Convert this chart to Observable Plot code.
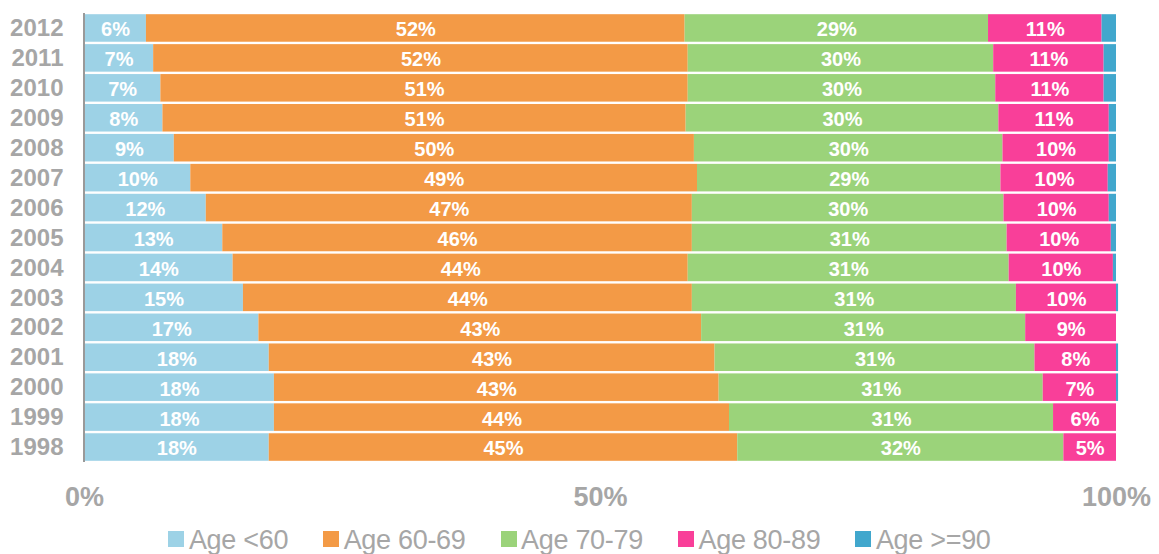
<!DOCTYPE html>
<html>
<head>
<meta charset="utf-8">
<script src="https://cdn.jsdelivr.net/npm/d3@7"></script>
<script src="https://cdn.jsdelivr.net/npm/@observablehq/plot@0.6"></script>
<style>
  html, body { margin: 0; padding: 0; background: #fff; }
  body { width: 1159px; height: 554px; overflow: hidden; font-family: "Liberation Sans", Arial, sans-serif; }
  #legend { display: flex; justify-content: center; align-items: center; height: 30px; margin-top: 10px; padding-left: 0px; }
  .item { display: flex; align-items: center; margin: 0 17.5px; }
  .sw { width: 16px; height: 16px; margin-right: 4.5px; margin-top: -2px; }
  .lab { font-size: 27px; color: #a6a6a6; letter-spacing: -0.3px; white-space: nowrap; }
</style>
</head>
<body>
<div id="chart"></div>
<div id="legend"></div>
<script>
const years = ["2012","2011","2010","2009","2008","2007","2006","2005","2004","2003","2002","2001","2000","1999","1998"];
const groups = ["Age <60", "Age 60-69", "Age 70-79", "Age 80-89", "Age >=90"];
const colors = ["#9dd2e6", "#f39a46", "#9bd37a", "#f93f99", "#41a7cd"];

const ageUnder60 = [6.0, 6.7, 7.4, 7.6, 8.7, 10.3, 11.8, 13.4, 14.4, 15.4, 16.9, 17.9, 18.4, 18.4, 17.9];
const age60to69  = [52.2, 51.8, 51.1, 50.7, 50.4, 49.1, 47.1, 45.5, 44.1, 43.5, 42.9, 43.2, 43.1, 44.1, 45.4];
const age70to79  = [29.4, 29.6, 29.8, 30.3, 29.9, 29.4, 30.2, 30.5, 31.1, 31.4, 31.4, 31.0, 31.4, 31.4, 31.6];
const age80to89  = [11.0, 10.7, 10.5, 10.7, 10.3, 10.4, 10.2, 10.1, 10.1, 9.7, 8.8, 7.9, 7.1, 6.1, 5.1];
const age90plus  = [1.4, 1.2, 1.2, 0.7, 0.7, 0.8, 0.7, 0.5, 0.3, 0.2, 0.0, 0.2, 0.2, 0.0, 0.0];

const xTicks = [0, 50, 100];

const series = [ageUnder60, age60to69, age70to79, age80to89, age90plus];
const data = [];
years.forEach((y, i) => {
  groups.forEach((g, j) => {
    data.push({year: y, group: g, value: series[j][i], gi: j});
  });
});

const gray = "#a6a6a6";
const plot = Plot.plot({
  width: 1159,
  height: 515,
  marginLeft: 84,
  marginRight: 43,
  marginTop: 13,
  marginBottom: 53,
  style: { fontFamily: "'Liberation Sans', Arial, sans-serif", background: "#fff" },
  x: { domain: [0, 100], axis: null, label: null },
  y: { domain: years, paddingInner: 0.08, paddingOuter: 0.04, round: false, axis: null, label: null },
  color: { domain: groups, range: colors },
  marks: [
    Plot.barX(data, Plot.stackX({ x: "value", y: "year", fill: "group", order: groups })),
    Plot.text(data.filter(d => d.gi < 4), Plot.stackX({
      x: "value", y: "year", z: "group", order: groups,
      text: d => Math.round(d.value) + "%",
      fill: "white", fontWeight: "bold", fontSize: 20, dy: 1.5
    })),
    Plot.ruleX([0], { stroke: "#999999", strokeWidth: 2, dx: -0.5 }),
    Plot.axisY({ tickSize: 0, tickPadding: 21, fontSize: 24, fontWeight: "bold", color: gray, fill: gray, label: null }),
    Plot.axisX({ ticks: xTicks, tickSize: 0, tickPadding: 24, fontSize: 27, fontWeight: "bold", tickFormat: d => d + "%", fill: gray, color: gray, label: null })
  ]
});
document.getElementById("chart").appendChild(plot);

const legend = document.getElementById("legend");
groups.forEach((g, j) => {
  const it = document.createElement("div");
  it.className = "item";
  const sw = document.createElement("div");
  sw.className = "sw";
  sw.style.background = colors[j];
  const lab = document.createElement("span");
  lab.className = "lab";
  lab.textContent = g;
  it.appendChild(sw);
  it.appendChild(lab);
  legend.appendChild(it);
});
</script>
</body>
</html>
